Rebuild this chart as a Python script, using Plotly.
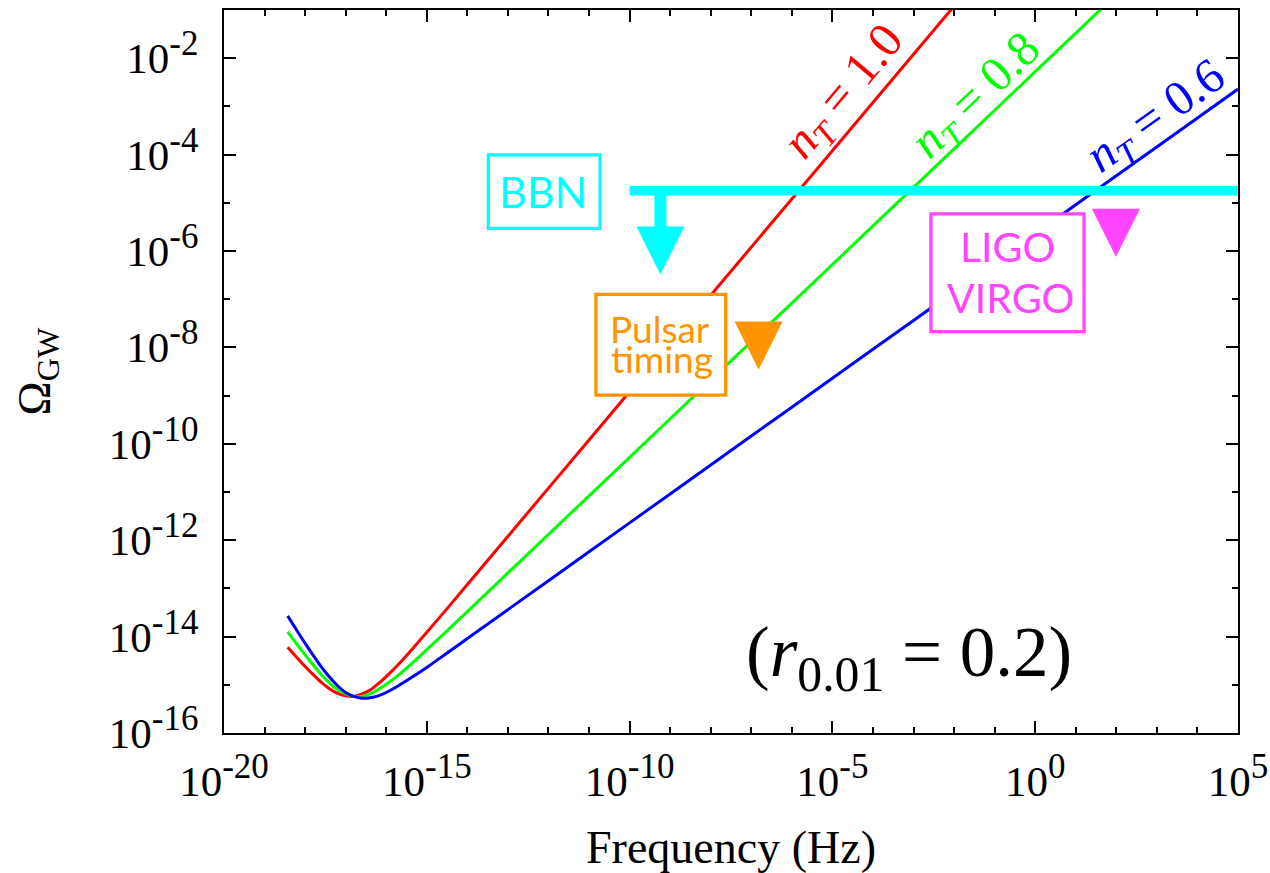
import numpy as np
import plotly.graph_objects as go

# Tabulated spectra: log10 of frequency (Hz) and log10 of Omega_GW
log_freq = [-18.43, -18.2, -18.0, -17.8, -17.6, -17.4, -17.2, -17.0, -16.8, -16.6,
            -16.4, -16.2, -16.0, -15.7, -15.4, -15.0, -14.5, -14.0, -12.0, -10.0,
            -8.0, -6.0, -4.0, -2.0, 0.0, 2.0, 4.0, 5.0]

log_omega_nt10 = [-14.22, -14.44, -14.62, -14.79, -14.95, -15.08, -15.18, -15.23, -15.24, -15.19,
                  -15.11, -14.98, -14.83, -14.58, -14.30, -13.91, -13.42, -12.92, -10.92, -8.92,
                  -6.92, -4.92, -2.92, -0.92]
log_omega_nt08 = [-13.90, -14.16, -14.38, -14.59, -14.79, -14.96, -15.10, -15.19, -15.24, -15.24,
                  -15.19, -15.10, -14.99, -14.80, -14.58, -14.27, -13.88, -13.48, -11.88, -10.28,
                  -8.68, -7.08, -5.48, -3.88, -2.28, -0.68]
log_omega_nt06 = [-13.57, -13.88, -14.14, -14.39, -14.63, -14.84, -15.02, -15.16, -15.24, -15.28,
                  -15.27, -15.23, -15.16, -15.02, -14.86, -14.64, -14.34, -14.04, -12.84, -11.64,
                  -10.44, -9.24, -8.04, -6.84, -5.64, -4.44, -3.24, -2.64]

# Observational constraints (log10 values)
bbn_level = -4.75
bbn_freq_span = [-10.0, 5.0]
bbn_arrow_freq = -9.24
bbn_arrow_tip = -6.49
bbn_arrow_head_top = -5.52
pulsar_freq, pulsar_tip = -6.82, -8.46
ligo_freq, ligo_tip = 1.99, -6.12

# Axis ticks
x_major_exp = [-20, -15, -10, -5, 0, 5]
y_major_exp = [-16, -14, -12, -10, -8, -6, -4, -2]
x_minor_exp = [e for e in range(-20, 6) if e not in x_major_exp]
y_minor_exp = [e for e in range(-16, 0) if e not in y_major_exp]

RED, GREEN, BLUE = "#FF0000", "#00FF00", "#0000FF"
CYAN, ORANGE, MAGENTA = "#00FFFF", "#FF9400", "#FF45FF"
SERIF = "Liberation Serif"


def p10(v):
    return np.power(10.0, np.asarray(v, dtype=float))


def power_label(e):
    return f"10<sup><span style='font-size:35px'>{e}</span></sup>"


fig = go.Figure()

for vals, col in [(log_omega_nt10, RED), (log_omega_nt08, GREEN), (log_omega_nt06, BLUE)]:
    fig.add_trace(go.Scatter(
        x=p10(log_freq[:len(vals)]), y=p10(vals), mode="lines",
        line=dict(color=col, width=3, shape="spline", smoothing=0.6),
        showlegend=False, hoverinfo="skip"))

# BBN bound and its downward arrow
fig.add_trace(go.Scatter(
    x=p10(bbn_freq_span), y=p10([bbn_level, bbn_level]), mode="lines",
    line=dict(color=CYAN, width=9.5), showlegend=False, hoverinfo="skip"))
fig.add_trace(go.Scatter(
    x=p10([bbn_arrow_freq, bbn_arrow_freq]), y=p10([bbn_level, bbn_arrow_head_top]),
    mode="lines", line=dict(color=CYAN, width=12), showlegend=False, hoverinfo="skip"))

# Upper-limit markers
for fx, fy, col in [(bbn_arrow_freq, bbn_arrow_tip, CYAN),
                    (pulsar_freq, pulsar_tip, ORANGE),
                    (ligo_freq, ligo_tip, MAGENTA)]:
    fig.add_trace(go.Scatter(
        x=p10([fx]), y=p10([fy]), mode="markers",
        marker=dict(symbol="arrow-down", size=48, color=col, line=dict(width=0)),
        showlegend=False, hoverinfo="skip"))

# Label boxes (paper coordinates)
boxes = [
    (0.2607, 0.3709, 0.6979, 0.7996, CYAN),
    (0.3668, 0.4948, 0.4674, 0.6068, ORANGE),
    (0.6972, 0.8482, 0.5551, 0.7180, MAGENTA),
]
for x0, x1, y0, y1, col in boxes:
    fig.add_shape(type="rect", xref="paper", yref="paper", x0=x0, x1=x1, y0=y0, y1=y1,
                  line=dict(color=col, width=3.3), fillcolor="white", layer="above")

box_texts = [
    ("BBN", 0.3146, 0.7487, 43, CYAN),
    ("Pulsar", 0.4300, 0.5593, 37, ORANGE),
    ("timing", 0.4318, 0.5178, 37, ORANGE),
    ("LIGO", 0.7722, 0.6722, 41, MAGENTA),
    ("VIRGO", 0.7759, 0.6030, 41, MAGENTA),
]
for txt, xp, yp, fs, col in box_texts:
    fig.add_annotation(text=txt, xref="paper", yref="paper", x=xp, y=yp,
                       xanchor="center", yanchor="middle", showarrow=False,
                       font=dict(family="Lato", size=fs, color=col))

# Spectral-index labels along the curves (log10 data coordinates)
nt_labels = [
    ("1.0", -4.70, -2.71, -50, RED),
    ("0.8", -1.446, -2.79, -43.6, GREEN),
    ("0.6", 2.988, -3.227, -35.5, BLUE),
]
for val, lx, ly, ang, col in nt_labels:
    fig.add_annotation(text="<i>n<sub>T</sub></i> = " + val, xref="x", yref="y",
                       x=lx, y=ly, textangle=ang, showarrow=False,
                       xanchor="center", yanchor="middle",
                       font=dict(family=SERIF, size=49, color=col))

fig.add_annotation(text="(<i>r</i><sub>0.01</sub> = 0.2)", xref="paper", yref="paper",
                   x=0.6755, y=0.1051, showarrow=False, xanchor="center", yanchor="middle",
                   font=dict(family=SERIF, size=71, color="black"))

axis_common = dict(
    showline=True, linecolor="black", linewidth=2, mirror="allticks",
    ticks="inside", ticklen=12, tickwidth=1.5, tickcolor="black",
    showgrid=False, zeroline=False,
    tickfont=dict(family=SERIF, size=43, color="black"),
)

fig.update_xaxes(
    type="log", range=[-20, 5],
    tickmode="array", tickvals=list(p10(x_major_exp)),
    ticktext=[power_label(e) for e in x_major_exp],
    minor=dict(ticks="inside", ticklen=6, tickwidth=1.5, tickcolor="black",
               tickvals=list(p10(x_minor_exp))),
    title=dict(text="Frequency (Hz)", font=dict(family=SERIF, size=46, color="black"),
               standoff=34),
    ticklabelstandoff=9,
    **axis_common)
fig.update_yaxes(
    type="log", range=[-16, -1],
    tickmode="array", tickvals=list(p10(y_major_exp)),
    ticktext=[power_label(e) for e in y_major_exp],
    minor=dict(ticks="inside", ticklen=6, tickwidth=1.5, tickcolor="black",
               tickvals=list(p10(y_minor_exp))),
    title=dict(text="Ω<sub>GW</sub>", font=dict(family=SERIF, size=46, color="black"),
               standoff=44),
    ticklabelstandoff=15,
    **axis_common)

fig.update_layout(
    width=1270, height=873,
    margin=dict(l=224, r=32, t=10, b=140, autoexpand=False),
    paper_bgcolor="white", plot_bgcolor="white",
)

fig.write_html("out.html")
